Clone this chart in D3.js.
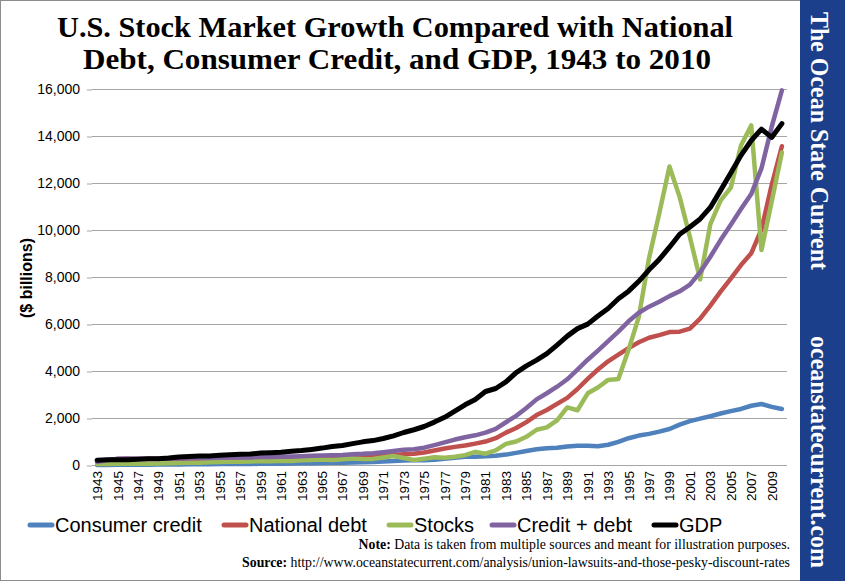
<!DOCTYPE html>
<html><head><meta charset="utf-8">
<script src="https://cdn.jsdelivr.net/npm/d3@7"></script>
<style>body{margin:0;background:#fff} svg{display:block}</style>
</head><body>
<svg id="c" width="845" height="581"></svg>
<script>
const years = [1943,1944,1945,1946,1947,1948,1949,1950,1951,1952,1953,1954,1955,1956,1957,1958,1959,1960,1961,1962,1963,1964,1965,1966,1967,1968,1969,1970,1971,1972,1973,1974,1975,1976,1977,1978,1979,1980,1981,1982,1983,1984,1985,1986,1987,1988,1989,1990,1991,1992,1993,1994,1995,1996,1997,1998,1999,2000,2001,2002,2003,2004,2005,2006,2007,2008,2009,2010];
const consumerCredit = [5,5,6,8,11,14,17,21,23,27,31,32,39,42,45,45,52,56,58,63,71,78,88,94,99,110,121,132,146,167,190,199,205,227,264,311,354,355,377,397,442,517,599,667,714,730,790,824,815,800,860,982,1139,1253,1324,1421,1531,1717,1867,1972,2077,2192,2291,2385,2522,2594,2475,2380];
const nationalDebt = [137,201,259,269,258,252,253,257,255,259,266,271,274,273,271,276,285,286,289,298,306,312,317,320,326,348,354,371,398,427,458,475,533,620,699,772,827,908,998,1142,1377,1572,1823,2125,2340,2602,2857,3233,3665,4065,4411,4693,4974,5225,5413,5526,5656,5674,5807,6228,6783,7379,7933,8507,9008,10025,11910,13562];
const stocks = [40,45,55,55,55,55,60,75,85,95,95,120,130,140,135,150,165,160,180,170,200,215,235,210,245,280,250,260,320,380,300,215,270,330,310,350,420,560,480,620,900,1000,1200,1500,1600,1900,2450,2330,3050,3300,3620,3660,4900,6300,8800,10700,12700,11400,9700,7900,10250,11250,11800,13600,14450,9150,11200,13300];
const creditPlusDebt = [142,206,265,277,269,266,270,278,278,286,297,303,313,315,316,321,337,342,347,361,377,390,405,414,425,458,475,503,544,594,648,674,738,847,963,1083,1181,1263,1375,1539,1819,2089,2422,2792,3054,3332,3647,4057,4480,4865,5271,5675,6113,6478,6737,6947,7187,7391,7674,8200,8860,9571,10224,10892,11530,12619,14385,15942];
const gdp = [203,225,228,228,244,269,267,294,339,358,379,380,415,437,461,467,507,526,545,586,618,664,719,788,833,910,985,1039,1127,1238,1383,1500,1638,1825,2031,2295,2563,2790,3128,3255,3537,3933,4220,4463,4740,5104,5484,5803,5996,6338,6657,7072,7398,7817,8304,8747,9268,9817,10128,10470,10961,11686,12422,13178,13808,14292,13939,14527];
const seriesNames = ["Consumer credit","National debt","Stocks","Credit + debt","GDP"];
const seriesColors = ["#4f81bd","#c0504d","#9bbb59","#8064a2","#000000"];
const yTicks = [0,2000,4000,6000,8000,10000,12000,14000,16000];
const xTickLabels = [1943,1945,1947,1949,1951,1953,1955,1957,1959,1961,1963,1965,1967,1969,1971,1973,1975,1977,1979,1981,1983,1985,1987,1989,1991,1993,1995,1997,1999,2001,2003,2005,2007,2009];
const titleLines = ["U.S. Stock Market Growth Compared with National","Debt, Consumer Credit, and GDP, 1943 to 2010"];

const seriesData = [consumerCredit, nationalDebt, stocks, creditPlusDebt, gdp];
const svg = d3.select("#c");

svg.append("rect").attr("x",0.5).attr("y",0.5).attr("width",844).attr("height",580)
  .attr("fill","#fff").attr("stroke","#8c8c8c");
svg.append("rect").attr("x",800).attr("y",0).attr("width",45).attr("height",581).attr("fill","#1b3f8b");

const side = svg.append("g").attr("fill","#fff").attr("font-family","'Liberation Serif','Times New Roman',serif");
side.append("text").attr("transform","translate(811,12) rotate(90)")
  .attr("font-size",25).attr("font-weight","bold").attr("textLength",258).attr("lengthAdjust","spacingAndGlyphs")
  .text("The Ocean State Current");
side.append("text").attr("transform","translate(811,336) rotate(90)")
  .attr("font-size",25).attr("font-weight","bold").attr("textLength",232).attr("lengthAdjust","spacingAndGlyphs")
  .text("oceanstatecurrent.com");

// title
const tg = svg.append("g").attr("font-family","'Liberation Serif','Times New Roman',serif")
  .attr("font-weight","bold").attr("font-size",30).attr("text-anchor","middle").attr("fill","#000");
tg.append("text").attr("x",395).attr("y",37).attr("textLength",676).attr("lengthAdjust","spacingAndGlyphs").text(titleLines[0]);
tg.append("text").attr("x",397).attr("y",69).attr("textLength",628).attr("lengthAdjust","spacingAndGlyphs").text(titleLines[1]);

const x = d3.scalePoint().domain(years).range([92,787]).padding(0.5);
const y = d3.scaleLinear().domain([0,16000]).range([465,89]);

// gridlines
svg.append("g").selectAll("line").data(yTicks.slice(1)).join("line")
  .attr("x1",92).attr("x2",787).attr("y1",d=>y(d)+0.5).attr("y2",d=>y(d)+0.5)
  .attr("stroke","#a6a6a6").attr("stroke-width",1);

// y axis
const yAxis = svg.append("g").attr("transform","translate(92,0)")
  .call(d3.axisLeft(y).tickValues(yTicks).tickFormat(d3.format(",")).tickSize(5).tickPadding(7));
yAxis.select(".domain").remove();
yAxis.selectAll(".tick line").attr("stroke","#a6a6a6").attr("transform","translate(0,0.5)");
yAxis.selectAll("text").attr("font-family","Arial,'Liberation Sans',sans-serif").attr("font-size",14).attr("fill","#000");

// x axis baseline
svg.append("line").attr("x1",92).attr("x2",787).attr("y1",465.5).attr("y2",465.5).attr("stroke","#a6a6a6");
// x labels
svg.append("g").selectAll("text").data(xTickLabels).join("text")
  .attr("transform",d=>`translate(${x(d)+5},471) rotate(-90)`)
  .attr("text-anchor","end").attr("font-family","Arial,'Liberation Sans',sans-serif")
  .attr("font-size",13.5).attr("fill","#000").text(d=>d);

// y title
svg.append("text").attr("transform","translate(32,278) rotate(-90)")
  .attr("text-anchor","middle").attr("font-family","Arial,'Liberation Sans',sans-serif")
  .attr("font-weight","bold").attr("font-size",16).text("($ billions)");

// lines
const line = d3.line().x((d,i)=>x(years[i])).y(d=>y(d));
svg.append("g").selectAll("path").data(seriesData).join("path")
  .attr("d",d=>line(d)).attr("fill","none")
  .attr("stroke",(d,i)=>seriesColors[i]).attr("stroke-width",(d,i)=>i===4?5:4.5)
  .attr("stroke-linejoin","round").attr("stroke-linecap","round");

// legend
const legendX = [28,222,387,490,652];
const lg = svg.append("g").selectAll("g").data(seriesNames).join("g")
  .attr("transform",(d,i)=>`translate(${legendX[i]},525)`);
lg.append("line").attr("x1",2).attr("x2",24).attr("y1",0).attr("y2",0)
  .attr("stroke",(d,i)=>seriesColors[i]).attr("stroke-width",5).attr("stroke-linecap","round");
lg.append("text").attr("x",27).attr("y",7).attr("font-family","Arial,'Liberation Sans',sans-serif")
  .attr("font-size",20).attr("fill","#000").text(d=>d);

// notes
const ng = svg.append("g").attr("font-family","'Liberation Serif','Times New Roman',serif").attr("font-size",13.8).attr("text-anchor","end");
const n1 = ng.append("text").attr("x",790).attr("y",549);
n1.append("tspan").attr("font-weight","bold").text("Note:");
n1.append("tspan").text(" Data is taken from multiple  sources and meant for illustration  purposes.");
const n2 = ng.append("text").attr("x",790).attr("y",567);
n2.append("tspan").attr("font-weight","bold").text("Source:");
n2.append("tspan").text(" http://www.oceanstatecurrent.com/analysis/union-lawsuits-and-those-pesky-discount-rates");
</script>
</body></html>
